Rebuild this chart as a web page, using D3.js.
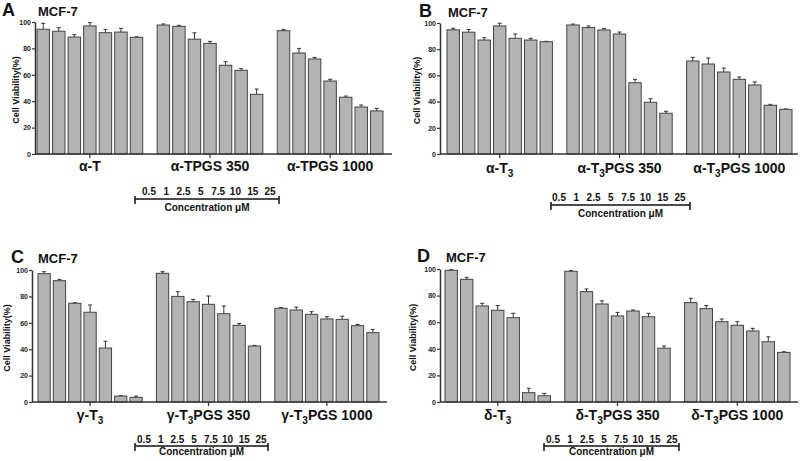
<!DOCTYPE html>
<html>
<head>
<meta charset="utf-8">
<script src="https://cdn.jsdelivr.net/npm/d3@7"></script>
<style>
  html, body { margin: 0; padding: 0; background: #fff; }
  svg { display: block; font-family: 'Liberation Sans', Arial, sans-serif; }
</style>
</head>
<body>
<div id="chart"></div>
<script>
// ---- data (cell viability %, MCF-7) ----
const concentrations = ['0.5', '1', '2.5', '5', '7.5', '10', '15', '25']
const yTicks = [0, 20, 40, 60, 80, 100]

// "_3" marks a subscript 3
const groupsA = ['α-T', 'α-TPGS 350', 'α-TPGS 1000']
const groupsB = ['α-T_3', 'α-T_3PGS 350', 'α-T_3PGS 1000']
const groupsC = ['γ-T_3', 'γ-T_3PGS 350', 'γ-T_3PGS 1000']
const groupsD = ['δ-T_3', 'δ-T_3PGS 350', 'δ-T_3PGS 1000']

const viabilityA = [
  [94.5, 93, 88.6, 97, 91.9, 92.4, 88.4],
  [97.7, 96.7, 87, 83.8, 67.2, 63.4, 45.2],
  [93.4, 76.5, 72, 55.3, 43, 35.6, 32.6]
]
const errorA = [
  [4.5, 2.7, 1.8, 2.5, 2.5, 2.8, 0.4],
  [0.8, 0.8, 4.8, 1.5, 2.7, 1.2, 4],
  [1, 3.5, 1.2, 1.3, 0.9, 1.5, 2]
]

const viabilityB = [
  [94.8, 93, 87, 97.7, 88.3, 87, 85.7],
  [98.5, 96.5, 94.7, 91.6, 54.4, 39.5, 31.1],
  [71, 68.7, 62.6, 57, 52.7, 37.2, 34.1]
]
const errorB = [
  [1.2, 2, 1.8, 2.1, 3.3, 1.3, 0.3],
  [0.7, 1.2, 1, 1.5, 2.6, 2.7, 1.5],
  [2.8, 4.6, 3, 1.8, 2.3, 0.7, 0.3]
]

const viabilityC = [
  [97.2, 91.9, 74.8, 68, 40.9, 4.5, 3.5],
  [97.5, 80, 76, 74, 66.9, 58.1, 42.4],
  [71, 69.7, 66.4, 62.9, 62.6, 57.8, 52.5]
]
const errorC = [
  [1.5, 1, 0.4, 5.5, 5.1, 0.3, 1],
  [1.2, 3.6, 1.7, 6.3, 5.8, 1.4, 0.5],
  [0.5, 2.2, 2, 1.7, 2.4, 0.9, 2.5]
]

const viabilityD = [
  [99, 92.2, 72.2, 69, 63.4, 7, 4.7],
  [98.3, 83, 73.7, 64.7, 68.4, 64.1, 40.4],
  [74.7, 70.2, 60.4, 57.7, 53.4, 45.3, 37.3]
]
const errorD = [
  [0.5, 1.5, 2, 3.5, 3.3, 3.3, 1.8],
  [0.5, 2, 2.3, 2.7, 0.8, 2.6, 1.7],
  [3.3, 2.3, 2, 2.7, 2, 3.7, 0.5]
]

// ---- layout ----
const width = 800
const height = 461

const panels = [
  {
    letter: 'A', groups: groupsA, values: viabilityA, errors: errorA,
    axisX: 35, axisEnd: 392, bars: [37, 383], y0: 154, y100: 22,
    letterX: 2, cellX: 38, headY: 16, yTitleX: 19,
    labelY: 171, bracket: [135, 279], numbers: [149, 270], numY: 195, lineY: 199, concY: 211
  },
  {
    letter: 'B', groups: groupsB, values: viabilityB, errors: errorB,
    axisX: 440, axisEnd: 798, bars: [447, 792], y0: 154, y100: 23,
    letterX: 419, cellX: 448, headY: 17, yTitleX: 420,
    labelY: 173, bracket: [551, 690], numbers: [559, 680], numY: 201, lineY: 205, concY: 217
  },
  {
    letter: 'C', groups: groupsC, values: viabilityC, errors: errorC,
    axisX: 32, axisEnd: 387, bars: [38, 379], y0: 402, y100: 270,
    letterX: 11, cellX: 38, headY: 263, yTitleX: 10,
    labelY: 420, bracket: [135, 268], numbers: [144, 261], numY: 443, lineY: 446, concY: 455
  },
  {
    letter: 'D', groups: groupsD, values: viabilityD, errors: errorD,
    axisX: 440, axisEnd: 798, bars: [445, 790], y0: 402, y100: 269,
    letterX: 417, cellX: 446, headY: 262, yTitleX: 416,
    labelY: 420, bracket: [544, 679], numbers: [553, 672], numY: 443, lineY: 446, concY: 455
  }
]

const barFill = '#b3b3b3'
const ink = '#333'

const svg = d3.select('#chart')
  .append('svg')
  .attr('width', width)
  .attr('height', height)

// text with "_3" written as a subscript tspan
const writeLabel = (text, label, subSize) => {
  let shift = 0
  label.split(/(_\d)/).filter(Boolean).forEach(part => {
    const sub = part.startsWith('_')
    const dy = (sub ? 4 : 0) - shift
    text.append('tspan')
      .attr('dy', dy)
      .attr('font-size', sub ? subSize : null)
      .text(sub ? part.slice(1) : part)
    shift = sub ? 4 : 0
  })
}

const drawPanel = p => {
  const g = svg.append('g')

  const y = d3.scaleLinear().domain([0, 100]).range([p.y0, p.y100])
  const groupX = d3.scaleBand().domain(p.groups).range(p.bars).paddingInner(0.12)
  const barX = d3.scaleBand().domain(d3.range(7)).range([0, groupX.bandwidth()]).paddingInner(0.2)

  const rows = p.groups.flatMap((group, gi) =>
    p.values[gi].map((value, i) => ({ group, i, value, err: p.errors[gi][i] }))
  )

  // error whiskers (upper only)
  const whisker = g.selectAll('g.err')
    .data(rows)
    .enter()
    .append('g')
    .attr('class', 'err')
    .attr('transform', d => `translate(${groupX(d.group) + barX(d.i) + barX.bandwidth() / 2},0)`)

  whisker.append('line')
    .attr('y1', d => y(d.value))
    .attr('y2', d => y(d.value + d.err))
    .attr('stroke', ink)
    .attr('stroke-width', 1)

  whisker.append('line')
    .attr('x1', -2)
    .attr('x2', 2)
    .attr('y1', d => y(d.value + d.err))
    .attr('y2', d => y(d.value + d.err))
    .attr('stroke', ink)
    .attr('stroke-width', 1)

  g.selectAll('rect.bar')
    .data(rows)
    .enter()
    .append('rect')
    .attr('class', 'bar')
    .attr('x', d => groupX(d.group) + barX(d.i))
    .attr('y', d => y(d.value))
    .attr('width', barX.bandwidth())
    .attr('height', d => y(0) - y(d.value))
    .attr('fill', barFill)
    .attr('stroke', '#444')
    .attr('stroke-width', 1)

  // y axis
  const yAxis = g.append('g')
    .attr('transform', `translate(${p.axisX},0)`)
    .call(d3.axisLeft(y).tickValues(yTicks).tickSize(3).tickSizeOuter(0).tickPadding(1))

  yAxis.select('.domain').attr('stroke', ink).attr('stroke-width', 1.5)
  yAxis.selectAll('.tick line').attr('stroke', ink).attr('stroke-width', 1.2)
  yAxis.selectAll('.tick text')
    .attr('font-family', "'Liberation Sans', Arial, sans-serif")
    .attr('font-size', 7)
    .attr('font-weight', 'bold')
    .attr('fill', '#222')

  // x axis: baseline plus a tick under each group
  g.append('line')
    .attr('x1', p.axisX)
    .attr('x2', p.axisEnd)
    .attr('y1', y(0))
    .attr('y2', y(0))
    .attr('stroke', ink)
    .attr('stroke-width', 1.5)

  g.selectAll('line.gtick')
    .data(p.groups)
    .enter()
    .append('line')
    .attr('class', 'gtick')
    .attr('x1', d => groupX(d) + groupX.bandwidth() / 2)
    .attr('x2', d => groupX(d) + groupX.bandwidth() / 2)
    .attr('y1', y(0))
    .attr('y2', y(0) + 4)
    .attr('stroke', ink)
    .attr('stroke-width', 1.2)

  g.selectAll('text.glabel')
    .data(p.groups)
    .enter()
    .append('text')
    .attr('class', 'glabel')
    .attr('x', d => groupX(d) + groupX.bandwidth() / 2)
    .attr('y', p.labelY)
    .attr('text-anchor', 'middle')
    .attr('font-size', 14)
    .attr('font-weight', 'bold')
    .attr('fill', '#111')
    .each(function (d) { writeLabel(d3.select(this), d, 10) })

  // y title
  g.append('text')
    .attr('transform', `translate(${p.yTitleX},${(p.y0 + p.y100) / 2 + 2}) rotate(-90)`)
    .attr('text-anchor', 'middle')
    .attr('font-size', 9)
    .attr('font-weight', 'bold')
    .attr('fill', '#111')
    .text('Cell Viability(%)')

  // panel letter and cell line
  g.append('text')
    .attr('x', p.letterX)
    .attr('y', p.headY)
    .attr('font-size', 18)
    .attr('font-weight', 'bold')
    .attr('fill', '#111')
    .text(p.letter)

  g.append('text')
    .attr('x', p.cellX)
    .attr('y', p.headY)
    .attr('font-size', 13)
    .attr('font-weight', 'bold')
    .attr('fill', '#111')
    .text('MCF-7')

  // concentration bracket
  const conc = d3.scalePoint().domain(concentrations).range(p.numbers)

  g.selectAll('text.conc')
    .data(concentrations)
    .enter()
    .append('text')
    .attr('class', 'conc')
    .attr('x', d => conc(d))
    .attr('y', p.numY)
    .attr('text-anchor', 'middle')
    .attr('font-size', 10)
    .attr('font-weight', 'bold')
    .attr('fill', '#111')
    .text(d => d)

  g.append('line')
    .attr('x1', p.bracket[0])
    .attr('x2', p.bracket[1])
    .attr('y1', p.lineY)
    .attr('y2', p.lineY)
    .attr('stroke', '#111')
    .attr('stroke-width', 1.5)

  g.selectAll('line.bend')
    .data(p.bracket)
    .enter()
    .append('line')
    .attr('class', 'bend')
    .attr('x1', d => d)
    .attr('x2', d => d)
    .attr('y1', p.lineY - 3)
    .attr('y2', p.lineY + 5)
    .attr('stroke', '#111')
    .attr('stroke-width', 1.5)

  g.append('text')
    .attr('x', (p.bracket[0] + p.bracket[1]) / 2)
    .attr('y', p.concY)
    .attr('text-anchor', 'middle')
    .attr('font-size', 10)
    .attr('font-weight', 'bold')
    .attr('fill', '#111')
    .text('Concentration μM')
}

panels.forEach(drawPanel)
</script>
</body>
</html>
